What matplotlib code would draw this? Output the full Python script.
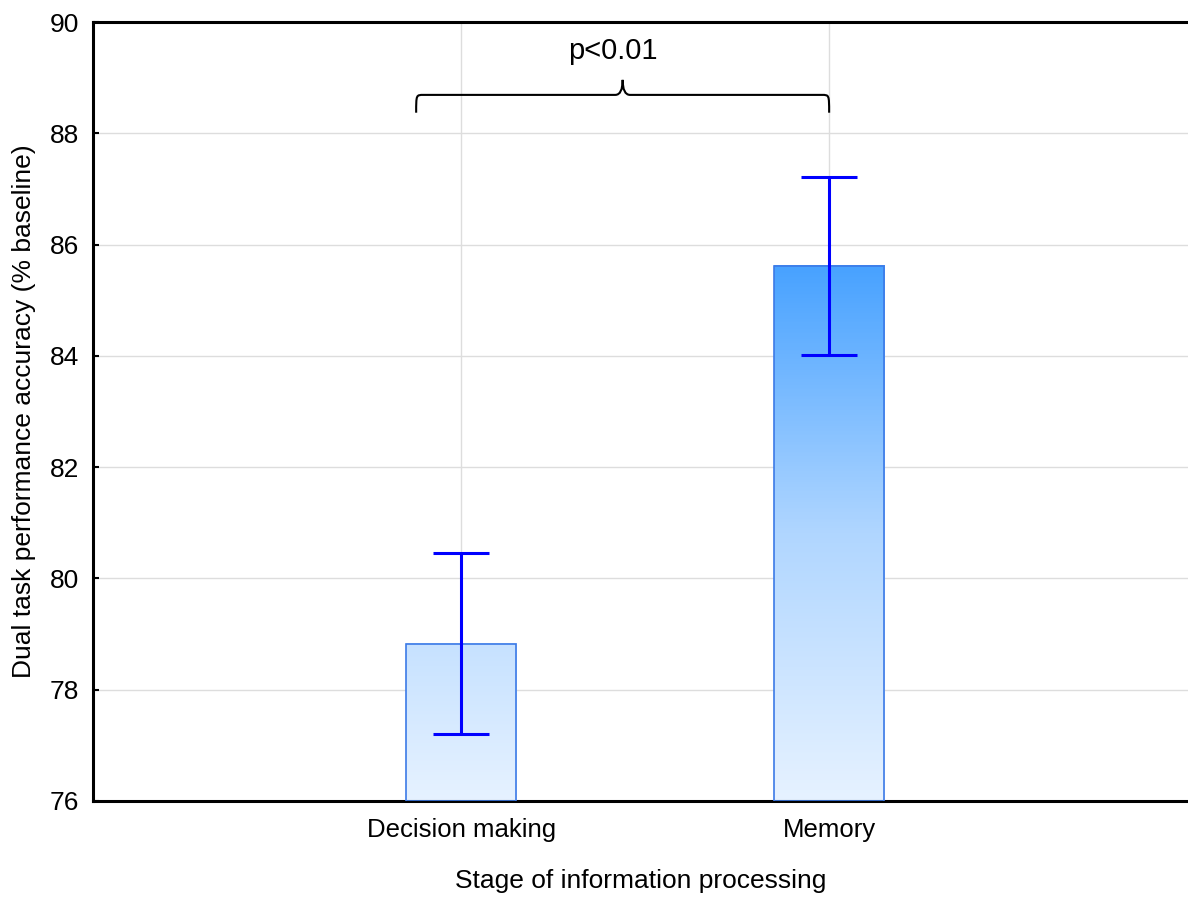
import numpy as np
import matplotlib.pyplot as plt
from matplotlib.colors import LinearSegmentedColormap, Normalize
from matplotlib.path import Path
from matplotlib.patches import PathPatch, Rectangle

plt.rcParams['font.family'] = ['Liberation Sans', 'DejaVu Sans']

categories = ['Decision making', 'Memory']
means = [78.83, 85.62]
err_low = [77.21, 84.02]
err_high = [80.46, 87.22]
p_text = 'p<0.01'

fig = plt.figure(figsize=(11.88, 8.99), dpi=100)
ax = fig.add_axes([93 / 1188, 1 - 801 / 899, 1 - 93 / 1188, (801 - 22) / 899])

ymin, ymax = 76, 90
x = np.arange(len(categories))
width = 0.3

# 渐变色
cmap = LinearSegmentedColormap.from_list('bl', ['#e6f2ff', '#b0d6ff', '#48a2ff'])
norm = Normalize(vmin=ymin, vmax=max(means))

for xi, m in zip(x, means):
    grad = np.linspace(ymin, m, 200).reshape(-1, 1)
    ax.imshow(grad, cmap=cmap, norm=norm, origin='lower', aspect='auto',
              extent=(xi - width / 2, xi + width / 2, ymin, m), zorder=2)
    ax.add_patch(Rectangle((xi - width / 2, ymin), width, m - ymin, fill=False,
                           edgecolor='#3c7ae6', linewidth=1.2, zorder=3))

yerr = [np.array(means) - np.array(err_low), np.array(err_high) - np.array(means)]
ax.errorbar(x, means, yerr=yerr, fmt='none', ecolor='#0000ff', elinewidth=2.2,
            capsize=20, capthick=2.2, zorder=4)

# 括号
x0, x1 = -0.122, 1.0
xm = (x0 + x1) / 2
yb, ye, yt = 88.69, 88.37, 88.96
d = 0.02
verts = [(x0, ye), (x0, yb), (x0, yb), (x0 + d, yb),
         (xm - d, yb), (xm, yb), (xm, yt),
         (xm, yb), (xm + d, yb),
         (x1 - d, yb), (x1, yb), (x1, yb), (x1, ye)]
codes = [Path.MOVETO, Path.CURVE4, Path.CURVE4, Path.CURVE4,
         Path.LINETO, Path.CURVE3, Path.CURVE3,
         Path.CURVE3, Path.CURVE3,
         Path.LINETO, Path.CURVE4, Path.CURVE4, Path.CURVE4]
ax.add_patch(PathPatch(Path(verts, codes), fill=False, edgecolor='black',
                       linewidth=1.5, zorder=5, clip_on=False))
ax.text(xm - 0.027, 89.48, p_text, ha='center', va='center', fontsize=21)

ax.set_xlim(-1, 1.975)
ax.set_ylim(ymin, ymax)
ax.set_xticks(x)
ax.set_xticklabels(categories, fontsize=18.5)
ax.set_yticks(np.arange(76, 91, 2))
ax.tick_params(axis='y', labelsize=19, direction='in', length=4, width=1.5, pad=10)
ax.tick_params(axis='x', direction='in', length=5, width=1.5, pad=12)
ax.grid(True, color='#dddddd', linewidth=1, zorder=0)
ax.set_axisbelow(True)

ax.spines['right'].set_visible(False)
for s in ['left', 'top', 'bottom']:
    ax.spines[s].set_linewidth(2.2)

ax.set_xlabel('Stage of information processing', fontsize=19, labelpad=20)
ax.set_ylabel('Dual task performance accuracy (% baseline)', fontsize=19, labelpad=10)

plt.savefig('out.png', dpi=100)
